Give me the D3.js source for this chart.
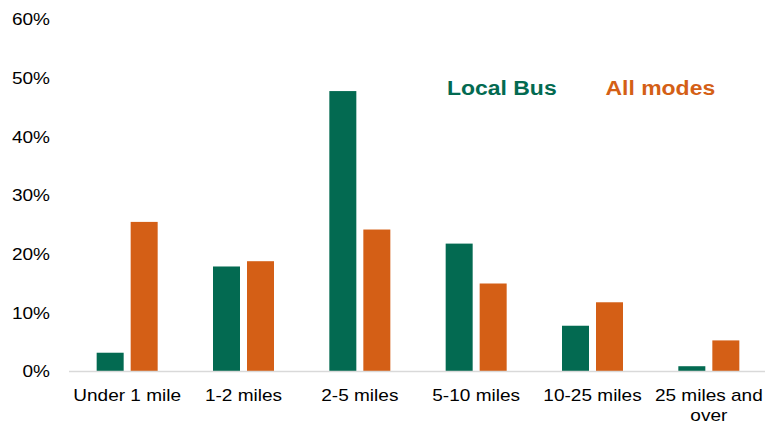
<!DOCTYPE html>
<html>
<head>
<meta charset="utf-8">
<script src="https://cdn.jsdelivr.net/npm/d3@7"></script>
<style>
  html, body { margin: 0; padding: 0; background: #fff; }
  svg { display: block; font-family: "Liberation Sans", Arial, sans-serif; }
</style>
</head>
<body>
<svg id="chart" width="765" height="425"></svg>
<script>
// Share of trips by trip length
const categories = ["Under 1 mile", "1-2 miles", "2-5 miles", "5-10 miles", "10-25 miles", "25 miles and over"];
const series = ["Local Bus", "All modes"];
const localBus = [3.2, 17.9, 47.8, 21.8, 7.8, 0.9];
const allModes = [25.5, 18.8, 24.2, 15.0, 11.8, 5.3];
const yTicks = [0, 10, 20, 30, 40, 50, 60];
const colors = { "Local Bus": "#036a51", "All modes": "#d45f16" };

const svg = d3.select("#chart");
const stretch = "scale(1.12,1)";

const x = d3.scaleBand().domain(categories).range([69, 767]).padding(0);
const x1 = d3.scaleBand().domain(series).range([0, 61]).paddingInner(0.206);
const y = d3.scaleLinear().domain([0, 60]).range([371.5, 19.5]);

const rows = categories.map((c, i) => ({ cat: c, "Local Bus": localBus[i], "All modes": allModes[i] }));

// Bars
const groups = svg.append("g").selectAll("g").data(rows).join("g")
  .attr("transform", d => `translate(${x(d.cat) + x.bandwidth() / 2 - 30.5},0)`);
groups.selectAll("rect")
  .data(d => series.map(s => ({ s, v: d[s] })))
  .join("rect")
  .attr("x", d => x1(d.s))
  .attr("width", x1.bandwidth())
  .attr("y", d => y(d.v))
  .attr("height", d => y(0) - y(d.v))
  .attr("fill", d => colors[d.s]);

// Baseline
svg.append("line")
  .attr("x1", 69).attr("x2", 765)
  .attr("y1", y(0)).attr("y2", y(0))
  .attr("stroke", "#d9d9d9").attr("stroke-width", 1.5);

// Y axis labels
const yAxis = svg.append("g").attr("transform", "translate(50,0)")
  .call(d3.axisLeft(y).tickValues(yTicks).tickSize(0).tickPadding(0).tickFormat(d => d + "%"));
yAxis.select(".domain").remove();
yAxis.selectAll("text")
  .attr("font-size", 17).attr("fill", "#000")
  .attr("font-family", "Liberation Sans, Arial, sans-serif")
  .attr("transform", stretch);

// X axis labels
const xAxis = svg.append("g").attr("transform", `translate(0,${y(0)})`)
  .call(d3.axisBottom(x).tickSize(0).tickFormat(""));
xAxis.select(".domain").remove();
const wrap = { "25 miles and over": ["25 miles and", "over"] };
xAxis.selectAll(".tick").append("text")
  .attr("text-anchor", "middle")
  .attr("font-size", 17).attr("fill", "#000")
  .attr("font-family", "Liberation Sans, Arial, sans-serif")
  .attr("transform", stretch)
  .each(function (d) {
    const lines = wrap[d] || [d];
    const t = d3.select(this);
    lines.forEach((ln, i) => {
      t.append("tspan").attr("x", 0).attr("y", 29.5 + i * 20).text(ln);
    });
  });

// Legend
const legend = [
  { s: "Local Bus", x: 447 },
  { s: "All modes", x: 605.5 }
];
svg.append("g").selectAll("text").data(legend).join("text")
  .attr("transform", d => `translate(${d.x},95) ${stretch}`)
  .attr("font-size", 20.5).attr("font-weight", "bold")
  .attr("fill", d => colors[d.s])
  .text(d => d.s);
</script>
</body>
</html>
